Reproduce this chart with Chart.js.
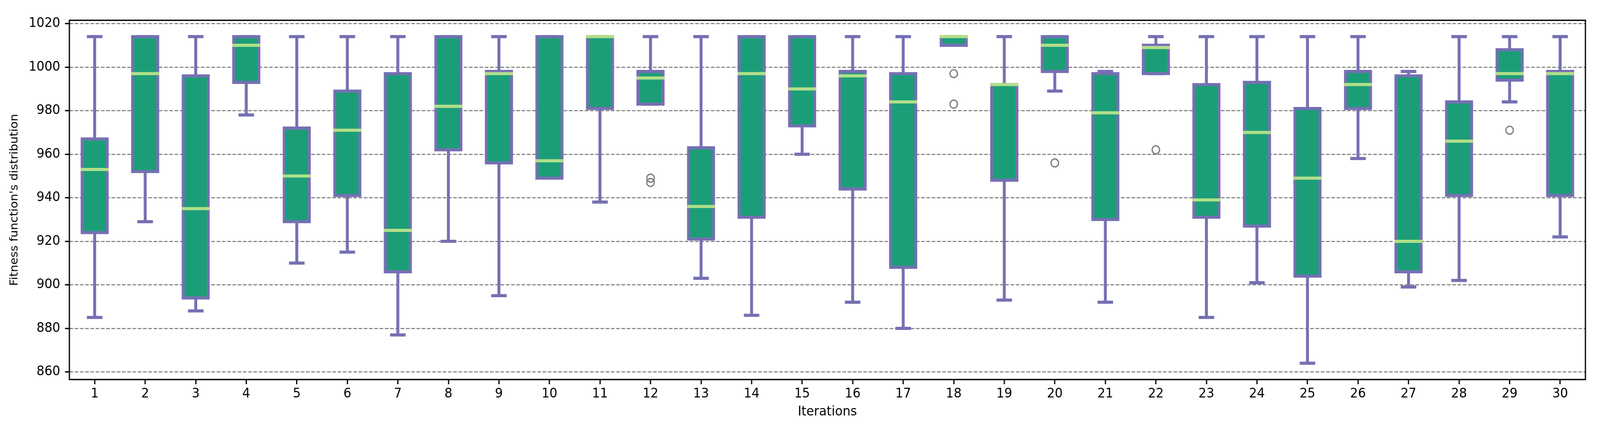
<!DOCTYPE html>
<html>
<head>
<meta charset="utf-8">
<script src="https://cdn.jsdelivr.net/npm/chart.js@4"></script>
<style>
  html, body { margin: 0; padding: 0; background: #fff; overflow: hidden; }
  canvas { display: block; }
</style>
</head>
<body>
<canvas id="myChart" width="4382" height="1091"></canvas>
<script>
// one box per iteration
const iterations = ['1','2','3','4','5','6','7','8','9','10','11','12','13','14','15',
                    '16','17','18','19','20','21','22','23','24','25','26','27','28','29','30'];
const whiskerLow  = [885,929,888,978,910,915,877,920,895,949,938,983,903,886,960,
                     892,880,1010,893,989,892,997,885,901,864,958,899,902,984,922];
const q1          = [924,952,894,993,929,941,906,962,956,949,981,983,921,931,973,
                     944,908,1010,948,998,930,997,931,927,904,981,906,941,994,941];
const medians     = [953,997,935,1010,950,971,925,982,997,957,1014,995,936,997,990,
                     996,984,1014,992,1010,979,1009,939,970,949,992,920,966,997,997];
const q3          = [967,1014,996,1014,972,989,997,1014,998,1014,1014,998,963,1014,1014,
                     998,997,1014,992,1014,997,1010,992,993,981,998,996,984,1008,998];
const whiskerHigh = [1014,1014,1014,1014,1014,1014,1014,1014,1014,1014,1014,1014,1014,1014,1014,
                     1014,1014,1014,1014,1014,998,1014,1014,1014,1014,1014,998,1014,1014,1014];
const outlierIters  = ['12','12','18','18','20','22','29'];
const outlierValues = [949,947,997,983,956,962,971];
const yTicks = [860,880,900,920,940,960,980,1000,1020];

const edgeColor = '#7570b3';
const boxColor = '#1b9e77';
const medianColor = '#b2df8a';

const boxParts = {
  id: 'boxParts',
  beforeDatasetsDraw(chart) {
    const {ctx, scales: {x, y}} = chart;
    const unit = x.getPixelForValue(1) - x.getPixelForValue(0);
    const capHalf = unit * 0.125 + 4;
    ctx.save();
    ctx.strokeStyle = edgeColor;
    ctx.lineWidth = 8;
    ctx.lineCap = 'butt';
    iterations.forEach((lab, i) => {
      const cx = x.getPixelForValue(i);
      const yHi = y.getPixelForValue(whiskerHigh[i]);
      const yLo = y.getPixelForValue(whiskerLow[i]);
      ctx.beginPath();
      ctx.moveTo(cx, y.getPixelForValue(q3[i]));
      ctx.lineTo(cx, yHi);
      ctx.moveTo(cx, y.getPixelForValue(q1[i]));
      ctx.lineTo(cx, yLo);
      ctx.moveTo(cx - capHalf, yHi);
      ctx.lineTo(cx + capHalf, yHi);
      ctx.moveTo(cx - capHalf, yLo);
      ctx.lineTo(cx + capHalf, yLo);
      ctx.stroke();
    });
    ctx.restore();
  },
  afterDatasetsDraw(chart) {
    const {ctx, scales: {x, y}} = chart;
    const unit = x.getPixelForValue(1) - x.getPixelForValue(0);
    const half = unit * 0.25 + 4;
    ctx.save();
    ctx.strokeStyle = medianColor;
    ctx.lineWidth = 8;
    medians.forEach((m, i) => {
      const cx = x.getPixelForValue(i);
      const my = y.getPixelForValue(m);
      ctx.beginPath();
      ctx.moveTo(cx - half, my);
      ctx.lineTo(cx + half, my);
      ctx.stroke();
    });
    ctx.restore();
  },
  afterDraw(chart) {
    const {ctx, chartArea: a} = chart;
    ctx.save();
    ctx.strokeStyle = '#000';
    ctx.lineWidth = 3.4;
    ctx.strokeRect(a.left, a.top, a.right - a.left, a.bottom - a.top);
    ctx.restore();
  }
};

const canvas = document.getElementById('myChart');
new Chart(canvas, {
  type: 'bar',
  data: {
    labels: iterations,
    datasets: [{
      data: q1.map((v, i) => [v, q3[i]]),
      backgroundColor: boxColor,
      borderColor: edgeColor,
      borderWidth: 8,
      borderSkipped: false,
      inflateAmount: 4,
      barPercentage: 0.5,
      categoryPercentage: 1
    }, {
      type: 'line',
      showLine: false,
      data: outlierIters.map((it, k) => ({x: it, y: outlierValues[k]})),
      pointStyle: 'circle',
      pointRadius: 10.2,
      pointBorderWidth: 3.4,
      pointBorderColor: '#808080',
      pointBackgroundColor: 'rgba(0,0,0,0)'
    }]
  },
  options: {
    responsive: false,
    devicePixelRatio: 1,
    animation: false,
    events: [],
    layout: { padding: { top: 52, right: 40, bottom: 0, left: 0 } },
    plugins: { legend: { display: false }, tooltip: { enabled: false } },
    scales: {
      x: {
        afterFit: (s) => { s.height = 119; },
        grid: { offset: false, drawOnChartArea: false, tickLength: 12, tickWidth: 3.4, tickColor: '#000' },
        border: { display: false },
        ticks: { color: '#000', padding: 5, maxRotation: 0, autoSkip: false,
                 font: { family: 'DejaVu Sans', size: 34 } },
        title: { display: true, text: 'Iterations', color: '#000',
                 font: { family: 'DejaVu Sans', size: 34 }, padding: { top: 0, bottom: 15 } }
      },
      y: {
        min: 856.5,
        max: 1021.5,
        afterFit: (s) => { s.width = 190; },
        afterBuildTicks: (s) => { s.ticks = yTicks.map(v => ({ value: v })); },
        grid: { color: '#808080', lineWidth: 2.7, tickLength: 12, tickWidth: 3.4,
                tickColor: '#000', tickBorderDash: [] },
        border: { display: false, dash: [10, 4.4] },
        ticks: { color: '#000', padding: 13, font: { family: 'DejaVu Sans', size: 34 },
                 callback: (v) => String(v) },
        title: { display: true, text: "Fitness function's distribution", color: '#000',
                 font: { family: 'DejaVu Sans', size: 30 }, padding: { top: 22, bottom: 0 } }
      }
    }
  },
  plugins: [boxParts]
});

// the window is narrower than the 4382px figure: squeeze the whole canvas to fit
canvas.style.width = window.innerWidth + 'px';
canvas.style.height = window.innerHeight + 'px';
</script>
</body>
</html>
